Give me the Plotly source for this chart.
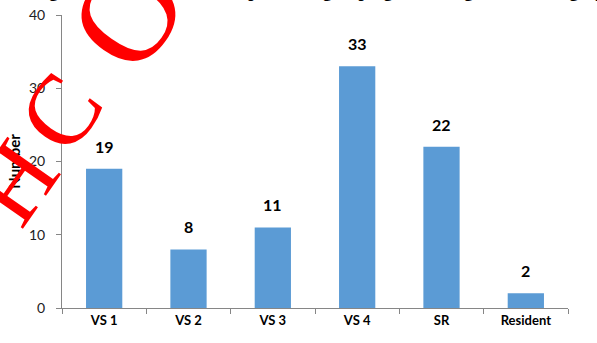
import plotly.graph_objects as go

categories = ["VS 1", "VS 2", "VS 3", "VS 4", "SR", "Resident"]
values = [19, 8, 11, 33, 22, 2]
y_ticks = [0, 10, 20, 30, 40]
title_text = "Figure 2: Distribution of respondents grouping according to their category"
watermark_letters = ["H", "C", "O"]

W, H = 597, 343
ML, MR, MT, MB = 62, 29, 15, 35
PW, PH = W - ML - MR, H - MT - MB


def px(x):
    return (x - ML) / PW


def py(y):
    return (H - MB - y) / PH


fig = go.Figure()
fig.add_trace(go.Bar(x=categories, y=values, marker_color="#5B9BD5",
                     marker_line_width=0))

for c, v in zip(categories, values):
    fig.add_annotation(x=c, y=v, text=f"<b>{v}</b>", showarrow=False,
                       yanchor="bottom", yshift=11,
                       font=dict(family="Lato", size=16, color="#000"))

fig.add_annotation(xref="paper", yref="paper", x=px(318), y=py(3),
                   xanchor="center", yanchor="bottom", showarrow=False,
                   text=f"<b>{title_text}</b>",
                   font=dict(family="Liberation Serif", size=18, color="#000"))

wm_pos = [(14, 182, 100), (60, 112, 100), (128, 14, 135)]
for letter, (x, y, s) in zip(watermark_letters, wm_pos):
    fig.add_annotation(xref="paper", yref="paper", x=px(x), y=py(y),
                       xanchor="center", yanchor="middle",
                       showarrow=False, text=letter, textangle=-55,
                       font=dict(family="Liberation Serif", size=s,
                                 color="#FF0000"))

fig.update_layout(
    width=W, height=H,
    margin=dict(l=ML, r=MR, t=MT, b=MB, autoexpand=False),
    plot_bgcolor="white", paper_bgcolor="white",
    bargap=0.57, showlegend=False,
    xaxis=dict(showline=True, linecolor="#868686", linewidth=1,
               ticks="outside", ticklen=5, tickcolor="#868686",
               tickson="boundaries", automargin=False,
               tickfont=dict(family="Lato", size=13, color="#000"),
               tickprefix="<b>", ticksuffix="</b>"),
    yaxis=dict(range=[0, 40], tickvals=y_ticks, showline=True,
               linecolor="#868686", linewidth=1, ticks="outside", ticklen=5,
               tickcolor="#868686", showgrid=False, zeroline=False,
               ticklabelstandoff=8, automargin=False,
               tickfont=dict(family="Lato", size=14, color="#222"),
               title=dict(text="<b>Number</b>", standoff=4,
                          font=dict(family="Lato", size=15, color="#000"))),
)

fig.write_html("out.html")
